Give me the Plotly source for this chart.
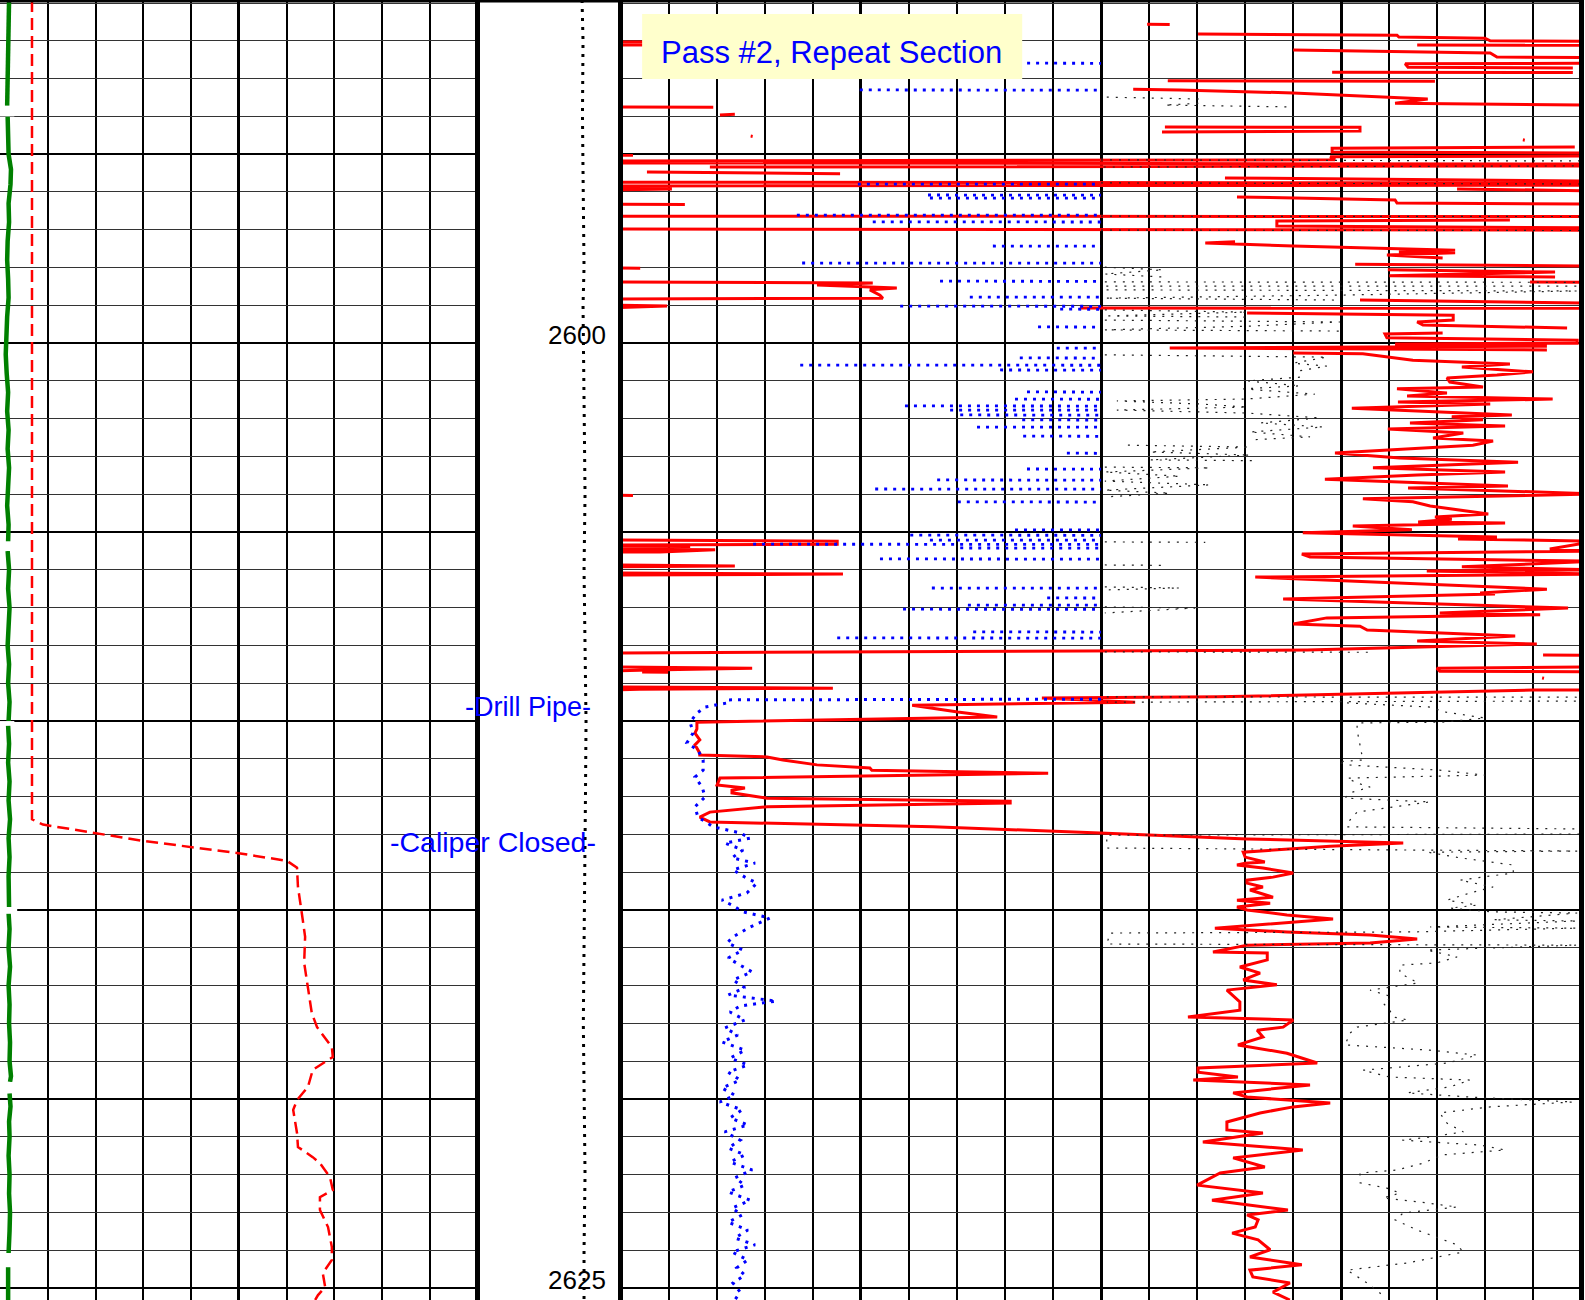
import plotly.graph_objects as go

# ---------------- data (depth in ft, value in track-scale units) ----------------
DEPTH_TOP, DEPTH_BOTTOM = 2590.92, 2625.32
depth_labels = [2600, 2625]

# Track 1 (scale 0..10)
green_curve = [(2590.92,0.19),(2591.5,0.18),(2592.0,0.19),(2592.5,0.16),(2593.0,0.15),(2593.5,0.16),(2593.72,0.15),None,
    (2594.0,0.16),(2594.5,0.17),(2595.0,0.18),(2595.4,0.23),(2595.8,0.22),(2596.3,0.18),(2596.8,0.19),(2597.3,0.16),
    (2597.8,0.15),(2598.3,0.17),(2598.8,0.18),(2599.3,0.15),(2599.8,0.13),(2600.3,0.12),(2600.8,0.14),(2601.3,0.17),
    (2601.8,0.15),(2602.3,0.18),(2602.8,0.16),(2603.3,0.19),(2603.8,0.17),(2604.3,0.15),(2604.8,0.18),(2605.25,0.17),None,
    (2605.5,0.16),(2606.0,0.19),(2606.5,0.17),(2607.0,0.20),(2607.5,0.18),(2608.0,0.16),(2608.5,0.19),(2609.0,0.17),
    (2609.5,0.20),(2610.0,0.18),None,(2610.12,0.17),(2610.6,0.19),(2611.1,0.17),(2611.6,0.20),(2612.1,0.18),(2612.6,0.21),
    (2613.1,0.18),(2613.6,0.20),(2614.1,0.18),(2614.6,0.20),(2614.92,0.19),None,(2615.08,0.18),(2615.5,0.20),(2616.0,0.18),
    (2616.5,0.21),(2617.0,0.18),(2617.5,0.20),(2618.0,0.19),(2618.5,0.21),(2619.0,0.20),(2619.4,0.23),(2619.55,0.21),None,
    (2619.85,0.20),(2620.2,0.22),(2620.6,0.19),(2621.0,0.20),(2621.5,0.18),(2622.0,0.20),(2622.5,0.19),(2623.0,0.21),
    (2623.5,0.20),(2624.0,0.19),(2624.08,0.18),None,(2624.45,0.17),(2624.9,0.18),(2625.32,0.17)]
green_gaps = [(2593.72,2594.0,0.3),(2605.25,2605.5,0.3),(2610.0,2610.12,0.3),(2614.92,2615.1,0.36),(2619.55,2619.85,0.3),(2624.08,2624.45,0.3)]

caliper_curve = [(2590.92,0.67),(2595.0,0.67),(2600,0.66),(2605,0.67),(2610,0.67),(2612.6,0.67),(2612.74,0.90),
    (2612.98,2.09),(2613.17,2.99),(2613.49,4.96),(2613.70,6.01),(2613.88,6.22),(2614.39,6.24),(2615.08,6.32),
    (2615.71,6.39),(2616.40,6.37),(2617.04,6.45),(2617.73,6.53),(2618.10,6.64),(2618.63,6.95),(2618.89,6.97),
    (2619.23,6.55),(2619.68,6.45),(2620.03,6.22),(2620.29,6.14),(2620.90,6.22),(2621.27,6.24),(2621.54,6.55),
    (2621.70,6.70),(2622.07,6.91),(2622.41,6.97),(2622.60,6.70),(2622.94,6.70),(2623.39,6.87),(2623.92,6.95),
    (2624.26,6.95),(2624.61,6.76),(2624.98,6.81),(2625.19,6.66),(2625.32,6.6)]

# Depth track (scale 0..10)
tension_curve = [(2590.92,7.31),(2592,7.38),(2594,7.34),(2596,7.38),(2598,7.45),(2599,7.38),(2600,7.40),(2602,7.45),
    (2604,7.52),(2606,7.45),(2608,7.52),(2610,7.59),(2612,7.55),(2614,7.52),(2616,7.45),(2618,7.40),(2620,7.45),
    (2622,7.52),(2624,7.45),(2625.32,7.45)]

# Track 2 (scale 0..20) - red curve, noisy section inside drill pipe
red_upper = [(2592.03,-0.3),(2592.04,8.0),None,(2592.10,8.0),(2592.11,-0.3),None,
    (2591.56,10.96),(2591.57,11.43),None,
    (2591.82,12.02),(2591.85,16.16),(2591.90,16.2),(2591.93,17.99),(2592.00,18.1),(2592.01,20.3),None,
    (2592.11,16.58),(2592.12,20.3),None,
    (2592.24,14.0),(2592.32,18.1),(2592.43,18.24),(2592.44,20.3),None,
    (2592.59,20.3),(2592.61,16.33),(2592.70,16.39),(2592.72,19.82),None,
    (2592.83,14.81),(2592.84,19.82),None,
    (2593.06,11.39),(2593.07,16.95),None,
    (2593.28,10.67),(2593.30,11.64),(2593.38,14.0),(2593.49,16.16),(2593.54,16.8),(2593.65,16.12),(2593.70,20.3),None,
    (2594.28,11.33),(2594.29,15.39),(2594.39,15.39),(2594.41,11.27),None,
    (2594.81,19.86),(2594.84,14.81),(2594.94,14.81),(2594.97,20.3),None,
    (2594.62,18.78),(2594.63,18.82),None,
    (2593.75,-0.3),(2593.76,1.93),None,
    (2593.96,2.07),(2593.94,2.38),None,
    (2594.52,2.71),(2594.53,2.75),None,
    (2595.02,-0.3),(2595.03,0.26),None,
    (2595.05,20.3),(2595.07,14.77),(2595.15,14.87),(2595.18,-0.3),(2595.23,-0.3),(2595.26,20.3),(2595.31,20.3),(2595.34,1.86),None,
    (2595.47,0.55),(2595.52,4.57),None,
    (2595.63,12.58),(2595.71,20.3),None,
    (2595.74,-0.3),(2595.76,20.3),(2595.82,20.3),(2595.84,-0.3),(2595.90,-0.3),(2595.92,1.07),(2595.95,-0.3),None,
    (2595.92,17.41),(2595.97,20.3),None,
    (2596.13,12.83),(2596.21,16.12),(2596.29,16.16),(2596.32,20.3),None,
    (2596.32,-0.3),(2596.33,1.34),None,
    (2596.64,-0.3),(2596.65,20.3),None,
    (2596.74,18.51),(2596.77,13.66),(2596.90,13.66),(2596.95,20.3),None,
    (2596.98,-0.3),(2597.01,20.3),None,
    (2597.32,12.79),(2597.35,12.17),(2597.43,14.0),(2597.54,17.37),(2597.59,16.2),(2597.61,17.37),(2597.67,15.95),(2597.75,17.11),None,
    (2597.91,15.29),(2597.96,20.3),None,
    (2598.06,15.97),(2598.12,19.45),(2598.22,16.0),(2598.25,19.45),None,
    (2598.38,18.93),(2598.39,20.3),None,
    (2598.01,-0.3),(2598.02,0.41),None,
    (2598.38,-0.3),(2598.41,5.25),(2598.46,4.09),(2598.54,5.75),(2598.59,5.19),(2598.73,5.40),(2598.81,5.46),(2598.83,-0.3),None,
    (2598.99,-0.3),(2599.02,0.97),(2599.07,-0.3),None,
    (2598.86,15.39),(2598.94,20.3),None,
    (2599.07,9.56),(2599.08,20.3),None,
    (2599.20,13.04),(2599.26,17.33),(2599.39,17.33),(2599.44,16.58),(2599.52,16.70),(2599.60,19.70),None,
    (2599.73,17.11),(2599.76,15.91),(2599.86,15.95),(2599.92,19.91),(2600.00,19.91),(2600.02,16.12),(2600.08,19.28),
    (2600.10,16.16),(2600.13,11.43),(2600.18,19.28),None,
    (2600.26,14.0),(2600.28,15.45),(2600.45,16.49),(2600.55,18.51),(2600.63,17.51),(2600.76,18.99),(2600.84,18.24),
    (2600.92,17.2),(2601.03,17.26),(2601.16,17.95),(2601.21,16.16),(2601.32,17.2),(2601.40,16.37),(2601.48,19.40),
    (2601.56,16.18),(2601.61,18.10),(2601.72,15.22),(2601.82,17.11),(2601.90,18.55),(2601.95,17.30),(2602.03,17.95),
    (2602.11,16.43),(2602.19,18.41),(2602.27,15.97),(2602.38,17.54),(2602.51,16.91),(2602.59,18.16),(2602.70,17.74),
    (2602.91,14.87),(2603.04,16.22),(2603.15,18.68),(2603.30,15.66),(2603.41,18.41),(2603.49,16.58),(2603.60,14.66),
    (2603.78,18.47),(2603.83,16.39),(2603.99,20.3),(2604.12,15.45),(2604.20,16.49),(2604.31,16.85),(2604.52,18.06),
    (2604.60,16.95),(2604.66,17.3),(2604.73,16.60),(2604.76,18.41),(2604.84,15.24),(2604.94,16.47),(2605.02,14.20),
    (2605.13,18.24),(2605.18,17.43),(2605.24,20.3),(2605.45,19.34),(2605.50,20.3),(2605.58,14.18),(2605.66,14.35),
    (2605.77,20.3),(2605.92,17.51),(2606.00,20.3),(2606.03,16.78),(2606.11,20.3),(2606.19,13.21),(2606.32,15.81),
    (2606.51,19.28),(2606.61,17.89),(2606.64,18.2),(2606.77,13.79),(2607.01,19.72),(2607.14,17.05),(2607.19,19.14),
    (2607.27,14.70),(2607.43,14.0),(2607.49,15.39),(2607.59,15.54),(2607.75,18.62),(2607.88,16.58),(2607.96,19.07),
    (2608.12,14.29),(2608.20,-0.3),None,
    (2608.25,19.2),(2608.26,20.3),None,
    (2608.57,20.3),(2608.60,16.99),(2608.68,17.05),(2608.70,20.3),None,
    (2608.86,19.18),(2608.87,19.22),None,
    (2604.02,-0.3),(2604.03,0.26),None,
    (2605.21,-0.3),(2605.24,4.51),(2605.32,4.51),(2605.34,-0.3),None,
    (2605.37,-0.3),(2605.38,1.45),None,
    (2605.45,-0.3),(2605.47,1.97),(2605.53,0.82),(2605.53,-0.3),None,
    (2605.87,-0.3),(2605.90,2.38),(2605.92,-0.3),None,
    (2606.08,-0.3),(2606.11,4.63),(2606.14,-0.3),None,
    (2608.57,-0.3),(2608.60,2.74),(2608.65,0.61),(2608.68,-0.3),None,
    (2608.70,0.45),(2608.71,0.99),None,
    (2609.10,-0.3),(2609.13,4.42),(2609.16,0.4),(2609.18,-0.3)]

# Track 2 - red curve in open hole
red_lower = [(2609.18,20.3),(2609.18,18.99),(2609.36,12.43),(2609.39,8.77),(2609.50,10.71),(2609.58,6.07),
    (2609.76,7.02),(2609.89,7.84),(2610.03,1.59),(2610.21,1.59),(2610.32,1.55),(2610.50,1.65),(2610.63,1.55),
    (2610.85,1.65),(2610.90,1.65),(2610.95,3.05),(2611.03,3.38),(2611.16,4.09),(2611.24,5.19),(2611.30,5.23),
    (2611.38,8.90),(2611.51,2.07),(2611.69,2.01),(2611.77,2.59),(2611.83,2.32),(2611.90,2.32),(2612.04,3.05),
    (2612.12,8.11),(2612.17,8.11),(2612.27,3.05),(2612.41,1.86),(2612.54,1.65),(2612.67,1.86),(2612.70,3.05),
    (2612.80,6.50),(2612.96,9.98),(2613.12,13.04),(2613.23,16.29),(2613.31,14.77),(2613.47,12.96),(2613.60,13.0),
    (2613.73,13.41),(2613.76,13.0),(2613.81,12.83),(2613.89,13.37),(2614.02,14.0),(2614.13,13.58),(2614.21,13.04),
    (2614.29,13.04),(2614.39,13.37),(2614.47,13.10),(2614.66,13.58),(2614.74,12.83),(2614.82,13.52),(2614.92,12.83),
    (2615.00,13.04),(2615.13,13.87),(2615.24,14.83),(2615.34,13.87),(2615.48,12.37),(2615.58,13.87),(2615.66,15.60),
    (2615.77,16.58),(2615.87,15.60),(2615.93,13.04),(2616.11,12.33),(2616.14,13.46),(2616.32,13.46),(2616.51,12.89),
    (2616.67,13.31),(2616.85,12.96),(2616.98,13.66),(2617.12,12.62),(2617.43,12.89),(2617.65,12.89),(2617.83,11.81),
    (2617.91,14.0),(2618.10,13.79),(2618.18,13.25),(2618.36,13.37),(2618.57,12.85),(2618.79,13.87),(2619.05,14.50),
    (2619.18,12.02),(2619.29,12.02),(2619.42,12.85),(2619.50,11.92),(2619.63,14.35),(2619.84,12.75),(2619.95,13.04),
    (2620.11,14.77),(2620.21,14.0),(2620.37,13.31),(2620.61,12.62),(2620.82,12.62),(2620.90,13.37),(2621.14,12.12),
    (2621.35,14.20),(2621.56,12.75),(2621.80,13.41),(2621.96,12.48),(2622.28,12.0),(2622.49,13.37),(2622.68,12.31),
    (2622.94,13.89),(2623.07,13.04),(2623.20,13.27),(2623.39,13.21),(2623.55,12.73),(2623.73,13.27),(2623.99,13.52),
    (2624.18,13.10),(2624.39,14.18),(2624.53,13.10),(2624.71,13.16),(2624.87,13.93),(2625.11,13.58),(2625.32,13.93)]

# Track 2 - blue dotted curve: spikes inside pipe (depth, left value), each runs to 10
blue_spike_depth = [2592.59,2593.30,2595.79,2596.08,2596.16,2596.61,2596.79,2597.43,2597.88,2598.36,2598.78,
    2599.02,2599.10,2599.57,2600.13,2600.39,2600.58,2600.71,2601.29,2601.48,2601.66,2601.77,2601.90,2602.03,
    2602.22,2602.46,2602.91,2603.33,2603.62,2603.86,2604.20,2604.94,2605.08,2605.21,2605.32,2605.42,2605.71,
    2606.48,2606.74,2606.93,2607.04,2607.64,2607.80]
blue_spike_left = [7.90,4.98,4.94,6.40,6.44,3.67,5.25,7.75,3.78,6.65,7.27,5.82,9.15,8.69,9.08,8.31,3.74,7.90,
    8.46,8.21,5.92,6.86,7.07,8.36,7.42,8.38,9.29,8.46,6.59,5.30,7.02,8.21,6.03,6.44,2.76,7.07,5.40,6.48,8.88,
    7.23,5.88,7.34,4.51]
blue_open_hole = [(2609.42,10.0),(2609.44,2.22),(2609.52,2.22),(2609.63,1.76),(2609.79,1.59),(2610.03,1.45),
    (2610.32,1.51),(2610.58,1.38),(2610.77,1.61),(2611.03,1.72),(2611.30,1.72),(2611.48,1.55),(2611.75,1.70),
    (2612.01,1.76),(2612.27,1.55),(2612.54,1.61),(2612.80,1.93),(2612.96,2.49),(2613.10,2.70),(2613.23,2.17),
    (2613.41,2.55),(2613.62,2.32),(2613.76,2.80),(2613.94,2.34),(2614.13,2.59),(2614.29,2.84),(2614.55,2.63),
    (2614.74,2.11),(2614.87,2.32),(2615.05,2.55),(2615.21,3.11),(2615.45,2.70),(2615.71,2.34),(2615.87,2.22),
    (2616.06,2.55),(2616.27,2.24),(2616.46,2.49),(2616.64,2.74),(2616.85,2.34),(2617.06,2.59),(2617.25,2.24),
    (2617.41,3.24),(2617.54,2.49),(2617.70,2.28),(2617.91,2.59),(2618.12,2.17),(2618.31,2.44),(2618.49,2.11),
    (2618.71,2.59),(2618.92,2.28),(2619.10,2.65),(2619.29,2.24),(2619.50,2.49),(2619.71,2.11),(2619.90,2.38),
    (2620.08,2.07),(2620.29,2.53),(2620.50,2.28),(2620.69,2.65),(2620.87,2.17),(2621.09,2.49),(2621.30,2.24),
    (2621.48,2.59),(2621.67,2.28),(2621.88,2.74),(2622.09,2.38),(2622.28,2.59),(2622.46,2.24),(2622.68,2.70),
    (2622.89,2.32),(2623.07,2.53),(2623.26,2.24),(2623.47,2.65),(2623.68,2.38),(2623.86,2.80),(2624.05,2.32),
    (2624.26,2.65),(2624.47,2.42),(2624.66,2.59),(2624.87,2.34),(2625.11,2.49),(2625.32,2.38)]

# Track 2 - thin black dotted curve
black_curve = [(2593.49,10.12),(2593.54,12.06),(2593.65,12.06),(2593.70,11.33),(2593.75,14.0),None,
    (2595.15,10.0),(2595.18,20.3),(2595.31,20.3),(2595.34,10.0),None,
    (2595.76,10.0),(2595.79,20.3),None,(2596.64,10.0),(2596.65,20.3),None,(2597.01,10.0),(2597.02,20.3),None,
    (2597.99,10.08),(2598.06,11.29),(2598.17,10.08),(2598.25,11.29),None,
    (2598.38,10.08),(2598.39,19.91),(2598.49,19.91),(2598.49,10.08),(2598.59,10.08),(2598.62,19.91),(2598.73,14.91),
    (2598.81,10.08),(2598.86,14.91),None,
    (2599.12,10.08),(2599.18,13.04),(2599.28,10.08),(2599.31,13.04),None,
    (2599.39,10.08),(2599.44,14.97),(2599.55,13.10),(2599.65,10.08),(2599.68,14.97),None,
    (2600.31,10.08),(2600.37,14.70),(2600.53,14.0),(2600.61,14.70),(2600.76,14.0),None,
    (2600.90,14.14),(2601.00,13.04),(2601.13,14.14),(2601.21,12.96),(2601.35,14.45),(2601.48,13.00),(2601.53,10.33),
    (2601.61,12.06),(2601.69,13.04),(2601.77,10.33),(2601.85,13.04),(2601.98,14.56),(2602.11,13.31),(2602.22,14.62),
    (2602.35,13.10),(2602.48,14.35),(2602.56,13.10),None,
    (2602.70,10.56),(2602.75,13.10),(2602.88,11.02),(2602.96,13.10),(2603.09,11.02),(2603.11,13.14),None,
    (2603.28,10.08),(2603.30,12.27),(2603.41,10.08),(2603.52,11.64),(2603.65,10.08),(2603.75,12.27),(2603.89,10.08),
    (2603.97,11.43),(2604.07,10.08),None,
    (2605.26,10.08),(2605.27,12.17),None,(2605.87,10.08),(2605.88,11.29),None,
    (2606.45,10.08),(2606.48,11.64),(2606.53,10.08),None,(2606.98,10.08),(2607.01,11.96),(2607.14,10.08),None,
    (2608.17,10.08),(2608.18,15.60),None,
    (2609.36,10.12),(2609.37,20.3),(2609.47,20.3),(2609.50,10.12),None,
    (2609.52,15.12),(2609.63,16.85),(2609.76,17.16),(2609.92,17.99),(2610.03,17.11),(2610.05,15.33),(2610.24,15.33),
    (2610.63,15.39),(2611.03,15.45),(2611.08,14.93),(2611.16,15.12),(2611.30,17.05),(2611.43,17.99),(2611.51,15.12),
    (2611.64,15.33),(2611.75,15.60),(2611.90,15.18),(2612.04,15.08),(2612.14,16.85),(2612.25,16.22),(2612.41,15.33),
    (2612.62,15.18),(2612.80,15.12),(2612.86,20.3),(2612.99,20.3),(2613.02,10.12),(2613.36,10.12),(2613.41,16.01),
    (2613.44,19.91),(2613.47,16.80),(2613.62,17.47),(2613.81,18.58),(2614.02,18.58),(2614.21,17.47),(2614.39,18.16),
    (2614.55,17.68),(2614.74,17.20),(2614.87,17.83),(2614.95,17.26),(2615.05,18.16),(2615.08,19.91),(2615.26,18.16),
    (2615.29,19.91),(2615.45,16.85),(2615.48,19.91),(2615.53,18.16),(2615.58,16.49),(2615.61,10.19),(2615.90,10.12),
    (2615.93,19.91),(2616.06,16.78),(2616.24,17.41),(2616.40,16.99),(2616.46,16.22),(2616.67,16.22),(2616.93,16.60),
    (2617.04,16.06),(2617.12,15.60),(2617.30,16.06),(2617.46,15.87),(2617.65,16.01),(2617.83,16.08),(2617.91,16.39),
    (2618.10,15.33),(2618.26,15.18),(2618.57,15.08),(2618.71,16.85),(2618.84,17.83),(2619.05,17.20),(2619.16,16.08),
    (2619.24,15.45),(2619.42,16.01),(2619.50,17.68),(2619.68,17.26),(2619.84,16.37),(2619.95,17.68),(2620.08,19.82),
    (2620.21,18.10),(2620.37,17.05),(2620.64,17.20),(2620.87,17.54),(2621.01,16.85),(2621.09,16.27),(2621.22,17.89),
    (2621.35,18.41),(2621.48,17.11),(2621.70,16.70),(2621.88,16.16),(2621.96,15.39),(2622.22,15.39),(2622.36,15.95),
    (2622.49,16.22),(2622.62,15.87),(2622.75,16.78),(2622.86,17.41),(2623.02,16.29),(2623.20,16.12),(2623.47,16.58),
    (2623.68,17.05),(2623.86,17.41),(2624.05,17.54),(2624.18,17.05),(2624.34,16.37),(2624.53,15.12),(2624.71,15.33),
    (2624.87,15.54),(2625.14,15.81),(2625.32,15.87)]

title_text = "Pass #2, Repeat Section"
marker_notes = [("-Drill Pipe-", 2609.63, 8.1, 27), ("-Caliper Closed-", 2613.2, 8.4, 28.5)]

# ---------------- helpers ----------------
def split(pts):
    d, v = [], []
    for p in pts:
        if p is None:
            d.append(None); v.append(None)
        else:
            d.append(p[0]); v.append(p[1])
    return d, v

W, H = 1585, 1300
X_T1 = 477.5 / W
X_T2 = 620.5 / W
X_END = 1581.5 / W
FONT = "Liberation Sans, Arial, sans-serif"

fig = go.Figure()

def add(pts, xa, ya, **line):
    d, v = split(pts)
    fig.add_trace(go.Scatter(x=v, y=d, mode="lines", xaxis=xa, yaxis=ya, line=line,
                             hoverinfo="skip", connectgaps=False))

# track 1
add(green_curve, "x", "y", color="#008000", width=4.5)
add(caliper_curve, "x", "y", color="#FF0000", width=2.5, dash="12px,6px")
# depth track
add(tension_curve, "x2", "y2", color="black", width=3, dash="3px,6px")
# track 2
add(red_upper, "x3", "y3", color="#FF0000", width=3)
add(red_lower, "x3", "y3", color="#FF0000", width=3)
add(black_curve, "x3", "y3", color="#222222", width=1.2, dash="2px,7px")
blue_spikes = []
for dd, vv in zip(blue_spike_depth, blue_spike_left):
    blue_spikes += [(dd, vv), (dd + 0.005, 10.0), None]
add(blue_spikes, "x3", "y3", color="#0000FF", width=2.8, dash="3px,6px")
add(blue_open_hole, "x3", "y3", color="#0000FF", width=3, dash="3px,6px")

xgrid = dict(showticklabels=False, ticks="", zeroline=False, showline=False, tick0=0,
             dtick=5, showgrid=True, gridcolor="black", gridwidth=3,
             minor=dict(dtick=1, showgrid=True, gridcolor="black", gridwidth=1.7))
ygrid = dict(showticklabels=False, ticks="", zeroline=False, showline=False,
             range=[DEPTH_BOTTOM, DEPTH_TOP], tick0=2590, dtick=5, showgrid=True,
             gridcolor="black", gridwidth=2.2,
             minor=dict(dtick=1, showgrid=True, gridcolor="#333333", gridwidth=1))

fig.update_layout(
    width=W, height=H, margin=dict(l=0, r=0, t=0, b=0, pad=0),
    paper_bgcolor="white", plot_bgcolor="white", showlegend=False,
    xaxis=dict(domain=[0, X_T1], range=[0, 10], **xgrid),
    xaxis2=dict(domain=[X_T1, X_T2], range=[0, 10], showgrid=False, showticklabels=False,
                ticks="", zeroline=False),
    xaxis3=dict(domain=[X_T2, X_END], range=[0, 20], **xgrid),
    yaxis=dict(domain=[0, 1], anchor="x", **ygrid),
    yaxis2=dict(domain=[0, 1], anchor="x2", matches="y", showgrid=False, showticklabels=False,
                ticks="", zeroline=False, range=[DEPTH_BOTTOM, DEPTH_TOP]),
    yaxis3=dict(domain=[0, 1], anchor="x3", matches="y", **ygrid),
)

shapes = []
for x in (X_T1, X_T2, X_END):
    shapes.append(dict(type="line", xref="paper", yref="paper", x0=x, x1=x, y0=0, y1=1,
                       line=dict(color="black", width=5), layer="above"))
shapes.append(dict(type="line", xref="paper", yref="paper", x0=0, x1=X_END, y0=1 - 1.2 / H, y1=1 - 1.2 / H,
                   line=dict(color="black", width=2.5), layer="above"))
for d0, d1, w in green_gaps:
    shapes.append(dict(type="rect", xref="x", yref="y", x0=-0.05, x1=w, y0=d0, y1=d1,
                       fillcolor="white", line=dict(width=0), layer="above"))
shapes.append(dict(type="rect", xref="x3", yref="y3", x0=0.45, x1=8.36, y0=2591.29, y1=2593.01,
                   fillcolor="#FFFFCC", line=dict(width=0), layer="above"))
fig.update_layout(shapes=shapes)

ann = [dict(text=title_text, x=4.40, y=2592.3, xref="x3", yref="y3", showarrow=False,
            xanchor="center", yanchor="middle", font=dict(family=FONT, size=31, color="#0000FF"))]
for dl in depth_labels:
    ann.append(dict(text=str(dl), x=9.13, y=dl, xref="x2", yref="y2", showarrow=False,
                    xanchor="right", yanchor="middle", yshift=8,
                    font=dict(family=FONT, size=26, color="black")))
for txt, dd, xr, fs in marker_notes:
    ann.append(dict(text=txt, x=xr, y=dd, xref="x2", yref="y2", showarrow=False,
                    xanchor="right", yanchor="middle",
                    font=dict(family=FONT, size=fs, color="#0000FF")))
fig.update_layout(annotations=ann)

fig.write_html("out.html", config={"displayModeBar": False},
               post_script="document.body.style.margin='0';document.body.style.overflow='hidden';")
